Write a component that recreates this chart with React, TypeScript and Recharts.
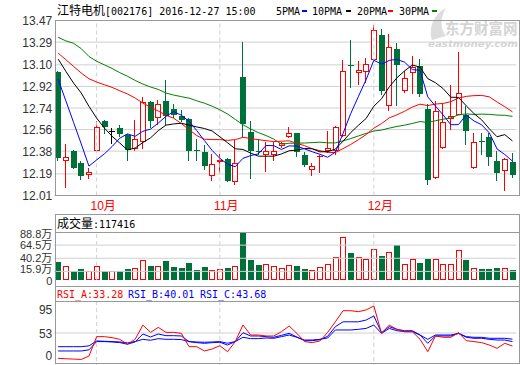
import React from 'react';
import { ComposedChart, Bar, Line, XAxis, YAxis, CartesianGrid, ReferenceLine } from 'recharts';

// ---- data ----
const opens = [13.04, 12.30, 12.38, 12.28, 12.185, 12.38, 12.63, 12.545, 12.57, 12.515,
  12.40, 12.455, 12.79, 12.66, 12.80, 12.735, 12.675, 12.65, 12.386, 12.37,
  12.17, 12.29, 12.315, 12.125, 13.00, 12.54, 12.383, 12.345, 12.345, 12.42,
  12.495, 12.53, 12.35, 12.22, 12.337, 12.385, 12.385, 12.505, 13.095, 13.035,
  13.04, 13.143, 13.345, 12.755, 13.235, 12.88, 13.03, 13.09, 12.735, 12.155,
  12.405, 12.645, 12.685, 12.68, 12.24, 12.462, 12.495, 12.295, 12.217, 12.29];
const highs = [13.045, 12.44, 12.39, 12.30, 12.24, 12.63, 12.64, 12.575, 12.60, 12.52,
  12.64, 12.83, 12.795, 12.81, 12.97, 12.77, 12.72, 12.66, 12.48, 12.43,
  12.36, 12.36, 12.32, 12.47, 13.29, 12.63, 12.48, 12.46, 12.46, 12.455,
  12.58, 12.535, 12.37, 12.28, 12.345, 12.545, 12.59, 13.14, 13.31, 13.13,
  13.16, 13.435, 13.40, 13.36, 13.28, 13.05, 13.17, 13.145, 12.77, 12.80,
  12.78, 12.935, 13.21, 12.755, 12.53, 12.53, 12.53, 12.38, 12.32, 12.365];
const lows = [12.30, 12.07, 12.23, 12.14, 12.15, 12.375, 12.52, 12.44, 12.50, 12.30,
  12.38, 12.40, 12.57, 12.595, 12.595, 12.655, 12.62, 12.30, 12.30, 12.225,
  12.13, 12.20, 12.12, 12.10, 12.50, 12.15, 12.345, 12.205, 12.30, 12.41,
  12.49, 12.335, 12.25, 12.17, 12.195, 12.365, 12.345, 12.50, 12.905, 12.935,
  12.95, 13.14, 12.845, 12.715, 12.76, 12.865, 12.855, 12.835, 12.10, 12.15,
  12.40, 12.56, 12.68, 12.43, 12.235, 12.345, 12.255, 12.13, 12.05, 12.16];
const closes = [12.32, 12.33, 12.24, 12.175, 12.21, 12.58, 12.58, 12.545, 12.525, 12.39,
  12.48, 12.79, 12.635, 12.775, 12.67, 12.68, 12.64, 12.38, 12.383, 12.255,
  12.27, 12.31, 12.135, 12.28, 12.605, 12.385, 12.38, 12.38, 12.378, 12.445,
  12.535, 12.37, 12.265, 12.26, 12.342, 12.41, 12.585, 13.045, 13.09, 13.055,
  13.11, 13.39, 12.885, 13.245, 13.10, 12.99, 13.08, 12.855, 12.14, 12.715,
  12.62, 12.67, 12.865, 12.545, 12.46, 12.46, 12.33, 12.195, 12.317, 12.185];

const ma5 = [12.98, 12.80, 12.62, 12.44, 12.255, 12.307, 12.357, 12.418, 12.488, 12.524,
  12.504, 12.546, 12.564, 12.614, 12.67, 12.71, 12.68, 12.629, 12.551, 12.468,
  12.386, 12.32, 12.271, 12.25, 12.32, 12.343, 12.357, 12.427, 12.426, 12.394,
  12.424, 12.422, 12.399, 12.375, 12.354, 12.329, 12.372, 12.528, 12.694, 12.837,
  12.977, 13.138, 13.106, 13.137, 13.146, 13.122, 13.06, 13.054, 12.833, 12.756,
  12.682, 12.60, 12.602, 12.683, 12.632, 12.60, 12.532, 12.398, 12.352, 12.297];
const ma10 = [13.148, 13.046, 12.948, 12.865, 12.754, 12.656, 12.573, 12.504, 12.448, 12.39,
  12.406, 12.452, 12.491, 12.551, 12.597, 12.607, 12.613, 12.597, 12.582, 12.569,
  12.548, 12.50, 12.45, 12.40, 12.394, 12.364, 12.338, 12.338, 12.338, 12.357,
  12.383, 12.389, 12.402, 12.40, 12.374, 12.376, 12.397, 12.463, 12.535, 12.596,
  12.653, 12.755, 12.817, 12.916, 12.992, 13.05, 13.099, 13.08, 12.985, 12.951,
  12.902, 12.83, 12.828, 12.758, 12.694, 12.641, 12.566, 12.50, 12.518, 12.465];
const ma20 = [13.198, 13.143, 13.087, 13.032, 12.984, 12.957, 12.934, 12.912, 12.884, 12.857,
  12.823, 12.781, 12.746, 12.715, 12.68, 12.655, 12.61, 12.56, 12.51, 12.479,
  12.477, 12.476, 12.47, 12.476, 12.495, 12.486, 12.476, 12.467, 12.46, 12.463,
  12.466, 12.445, 12.426, 12.40, 12.384, 12.37, 12.368, 12.401, 12.436, 12.476,
  12.518, 12.572, 12.61, 12.658, 12.683, 12.713, 12.748, 12.772, 12.76, 12.773,
  12.778, 12.793, 12.823, 12.837, 12.843, 12.845, 12.833, 12.79, 12.751, 12.708];
const ma30 = [13.33, 13.30, 13.28, 13.235, 13.17, 13.13, 13.10, 13.07, 13.035, 13.005,
  12.97, 12.94, 12.915, 12.895, 12.865, 12.848, 12.835, 12.822, 12.80, 12.78,
  12.755, 12.725, 12.69, 12.645, 12.60, 12.565, 12.535, 12.51, 12.48, 12.438,
  12.446, 12.447, 12.448, 12.451, 12.455, 12.449, 12.449, 12.466, 12.485, 12.507,
  12.528, 12.548, 12.556, 12.572, 12.586, 12.597, 12.611, 12.627, 12.619, 12.634,
  12.646, 12.658, 12.682, 12.691, 12.686, 12.689, 12.687, 12.681, 12.679, 12.67];

// volume in 万
const volumes = [34, 26, 17, 20, 17, 25, 17, 17, 17, 20,
  22, 37, 26, 26, 36, 24, 23, 32, 18.5, 24,
  18.5, 20, 23, 26, 88.3, 37, 28, 30, 26, 22,
  27, 26, 20, 18.5, 23.5, 30, 42, 79, 50.5, 42,
  38, 57, 44, 52, 65, 30, 38, 32, 39, 39,
  30, 30, 55.5, 37, 22, 20, 20, 22, 22, 18.5];

const rsiA = [14.7, 14, 13.5, 13, 18, 47.5, 47.5, 46, 43.4, 36,
  43.4, 65, 54, 61.6, 54, 54, 52.5, 32.3, 32.3, 25.8,
  28.8, 33.8, 24.7, 40, 65.2, 50, 50, 48.5, 48.5, 55,
  63.6, 52.5, 40, 38.4, 41, 54, 70, 86.8, 86.8, 85.3,
  88, 94, 52.5, 65, 58.6, 55, 55, 43.4, 24.7, 48.5,
  46.5, 46.5, 53.5, 41.4, 40, 38.4, 34.8, 29.8, 37.4, 33.28];
const rsiB = [25.8, 25.8, 25.8, 25.8, 27.5, 40, 40, 39.5, 38.5, 36,
  39.5, 51.5, 47, 51.5, 49, 49, 48.5, 40, 38.4, 37.4,
  38.4, 39, 34.8, 40, 53.5, 48.5, 48.5, 47.5, 46.5, 49.5,
  52.5, 47, 41.4, 41.4, 43, 48, 62.6, 70, 70, 70,
  72.7, 78.8, 53.5, 62.6, 58.6, 56.5, 56.5, 50, 37.4, 48.5,
  48.5, 48.5, 52.5, 46.5, 45, 45, 43.4, 42.4, 42.4, 40.01];
const rsiC = [32.3, 32.3, 32.3, 32.3, 33.5, 41, 40.5, 40, 39.5, 38,
  40, 43.4, 42, 44.5, 43.5, 43.5, 43, 40, 39.4, 39,
  39.4, 40, 37.5, 40, 46.5, 44.5, 44.5, 45.5, 45, 47.5,
  50, 46.5, 42.4, 42.4, 43.4, 45.5, 57.6, 57.6, 57.6, 58.6,
  60, 65, 52.5, 60, 56.5, 55, 55, 50, 43.4, 50,
  50, 50, 52.5, 47.5, 46.5, 46.5, 45, 45, 45, 43.68];

const monthIndex = [5, 21, 41];
const monthLabels = ['10月', '11月', '12月'];
const priceTicks = [12.01, 12.19, 12.38, 12.56, 12.74, 12.92, 13.10, 13.29, 13.47];
const volTicks = [0, 15.9, 40.2, 64.5, 88.8];
const rsiTicks = [0, 53, 95];

// ---- styles ----
const RED = '#ff0000';
const GREEN = '#00703a';
const BLUE = '#0000ff';
const GRID = '#d0d0d0';
const BORDER = '#999999';
const NUM_FONT = "'Liberation Sans', Arial, 'Noto Sans CJK SC', sans-serif";
const MONO = "'DejaVu Sans Mono', 'Liberation Mono', monospace";
const CJK = "'Noto Sans CJK SC', sans-serif";

const rows = closes.map((c, i) => ({
  i,
  open: opens[i], high: highs[i], low: lows[i], close: c,
  range: [lows[i], highs[i]],
  vol: volumes[i],
  ma5: ma5[i], ma10: ma10[i], ma20: ma20[i], ma30: ma30[i],
  rsiA: rsiA[i], rsiB: rsiB[i], rsiC: rsiC[i],
}));

function Candle(props: any) {
  const { x, y, width, height, payload } = props;
  if (x == null || y == null) return <g />;
  const { open, close, high, low } = payload;
  const top = Math.min(y, y + height);
  const bot = Math.max(y, y + height);
  const py = (v: number) => top + ((high - v) / (high - low)) * (bot - top);
  const cx = Math.round(x + width / 2);
  const up = close > open;
  const flat = close === open;
  const color = flat ? '#000' : up ? RED : GREEN;
  const yo = py(open), yc = py(close);
  const bt = Math.round(Math.min(yo, yc));
  const bb = Math.round(Math.max(yo, yc));
  const hy = Math.round(top), ly = Math.round(bot);
  const wx = cx - 0.5;
  if (bb - bt < 1) {
    return (
      <g>
        <line x1={wx} x2={wx} y1={hy} y2={ly} stroke={color} strokeWidth={1} />
        <line x1={cx - 3} x2={cx + 3} y1={bt + 0.5} y2={bt + 0.5} stroke={color} strokeWidth={1} />
      </g>
    );
  }
  if (up) {
    return (
      <g>
        {hy < bt && <line x1={wx} x2={wx} y1={hy} y2={bt} stroke={RED} strokeWidth={1} />}
        {ly > bb && <line x1={wx} x2={wx} y1={bb} y2={ly} stroke={RED} strokeWidth={1} />}
        <rect x={cx - 2.5} y={bt + 0.5} width={5} height={Math.max(1, bb - bt - 1)} fill="#fff" stroke={RED} strokeWidth={1} />
      </g>
    );
  }
  return (
    <g>
      <line x1={wx} x2={wx} y1={hy} y2={ly} stroke={color} strokeWidth={1} />
      <rect x={cx - 3} y={bt} width={6} height={bb - bt} fill={color} />
    </g>
  );
}

function VolBar(props: any) {
  const { x, y, width, height, payload } = props;
  if (x == null || y == null) return <g />;
  const cx = Math.round(x + width / 2);
  const top = Math.round(Math.min(y, y + height));
  const bot = Math.round(Math.max(y, y + height));
  const up = payload.close >= payload.open;
  if (up) {
    return <rect x={cx - 2.5} y={top + 0.5} width={5} height={Math.max(1, bot - top - 1)} fill="#fff" stroke={RED} strokeWidth={1} />;
  }
  return <rect x={cx - 3} y={top} width={6} height={bot - top} fill={GREEN} />;
}

const PriceTick = (p: any) => (
  <text x={p.x} y={p.y + 4.5} textAnchor="end" fontSize={12} fontFamily={NUM_FONT} fill="#333">
    {Number(p.payload.value).toFixed(2)}
  </text>
);

const VolTick = (p: any) => {
  const v = p.payload.value;
  const nudge = v === 0 ? 1 : v === volTicks[1] ? -2.5 : v === volTicks[4] ? 1.5 : 0;
  return (
    <text x={p.x} y={p.y + 4 + nudge} textAnchor="end" fontSize={11} fontFamily={NUM_FONT} fill="#333">
      {v === 0 ? '0' : `${v}万`}
    </text>
  );
};

const RsiTick = (p: any) => {
  const yy = Math.min(Math.max(p.y, 22.7), 68.5);
  return (
    <text x={p.x} y={yy + 4.5} textAnchor="end" fontSize={12} fontFamily={NUM_FONT} fill="#333">
      {p.payload.value}
    </text>
  );
};

const MonthTick = (p: any) => {
  const k = monthIndex.indexOf(p.payload.value);
  if (k < 0) return <g />;
  return (
    <text x={p.x + 6.5} y={p.y + 14.5} textAnchor="middle" fontSize={12} fontFamily={NUM_FONT} fill={RED}>
      {monthLabels[k]}
    </text>
  );
};

const LEFT_W = 54.3;
const RIGHT_M = 3.7;

export default function App() {
  const monthRefs = (keyp: string) =>
    monthIndex.map((m) => (
      <ReferenceLine key={keyp + m} x={m} stroke={GRID} strokeDasharray="4 3" ifOverflow="visible" />
    ));
  return (
    <div style={{ position: 'absolute', left: 0, top: 0, width: 520, height: 365, overflow: 'hidden', background: '#fff' }}>
      {/* watermark */}
      <svg width={520} height={60} style={{ position: 'absolute', left: 0, top: 0 }}>
        <path d="M432 40 C 428 28, 434 14, 446 8 C 440 18, 440 28, 446 36 Z" fill="#dddddd" />
        <text x={445} y={34} fontSize={14.5} fontWeight="bold" fontFamily={CJK} fill="#d4d4d4">东方财富网</text>
        <text x={428} y={46.5} fontSize={8.5} fontStyle="italic" fontWeight="bold" fontFamily="'DejaVu Sans', sans-serif" fill="#d4d4d4" textLength={90} lengthAdjust="spacingAndGlyphs">eastmoney.com</text>
      </svg>

      {/* price panel */}
      <div style={{ position: 'absolute', left: 0, top: 0 }}>
        <ComposedChart width={520} height={214} data={rows} margin={{ top: 20.5, right: RIGHT_M, bottom: 0, left: 0 }} barSize={6}>
          <CartesianGrid vertical={false} stroke={GRID} />
          <XAxis dataKey="i" type="category" scale="band" interval={0} tickLine={false} axisLine={false} tickSize={0} tickMargin={0} height={18.5} tick={<MonthTick />} />
          <YAxis type="number" domain={[12.01, 13.47]} ticks={priceTicks} interval={0} width={LEFT_W} tickLine={false} axisLine={false} tickSize={0} tickMargin={2} tick={<PriceTick />} />
          {monthRefs('p')}
          <Bar dataKey="range" shape={<Candle />} isAnimationActive={false} />
          <Line dataKey="ma30" stroke="#008000" strokeWidth={1} dot={false} isAnimationActive={false} />
          <Line dataKey="ma20" stroke={RED} strokeWidth={1} dot={false} isAnimationActive={false} />
          <Line dataKey="ma10" stroke="#000" strokeWidth={1} dot={false} isAnimationActive={false} />
          <Line dataKey="ma5" stroke={BLUE} strokeWidth={1} dot={false} isAnimationActive={false} />
        </ComposedChart>
      </div>

      {/* volume panel */}
      <div style={{ position: 'absolute', left: 0, top: 214 }}>
        <ComposedChart width={520} height={73} data={rows} margin={{ top: 18, right: RIGHT_M, bottom: 7, left: 0 }} barSize={6}>
          <XAxis dataKey="i" type="category" scale="band" hide />
          <YAxis type="number" domain={[0, 88.8]} ticks={volTicks} interval={0} width={LEFT_W} tickLine={false} axisLine={false} tickSize={0} tickMargin={2} tick={<VolTick />} />
          {volTicks.filter((v) => v > 0 && v < 88.8).map((v) => (
            <ReferenceLine key={'v' + v} y={v} stroke={GRID} />
          ))}
          {monthRefs('v')}
          <Bar dataKey="vol" shape={<VolBar />} isAnimationActive={false} />
        </ComposedChart>
      </div>

      {/* RSI panel */}
      <div style={{ position: 'absolute', left: 0, top: 287 }}>
        <ComposedChart width={520} height={81} data={rows} margin={{ top: 15, right: RIGHT_M, bottom: 0, left: 0 }}>
          <XAxis dataKey="i" type="category" scale="band" hide />
          <YAxis type="number" domain={[0, 100]} ticks={rsiTicks} interval={0} width={LEFT_W} tickLine={false} axisLine={false} tickSize={0} tickMargin={2} tick={<RsiTick />} />
          <ReferenceLine y={53} stroke={GRID} />
          {monthRefs('r')}
          <Line dataKey="rsiC" stroke={BLUE} strokeWidth={1} dot={false} isAnimationActive={false} />
          <Line dataKey="rsiB" stroke={BLUE} strokeWidth={1} dot={false} isAnimationActive={false} />
          <Line dataKey="rsiA" stroke={RED} strokeWidth={1} dot={false} isAnimationActive={false} />
        </ComposedChart>
      </div>

      {/* frames and header texts */}
      <svg width={520} height={365} style={{ position: 'absolute', left: 0, top: 0, pointerEvents: 'none' }}>
        <rect x={55.5} y={20.5} width={464} height={175} fill="none" stroke={BORDER} />
        <rect x={55.5} y={214.5} width={464} height={72} fill="none" stroke={BORDER} />
        <line x1={55.5} x2={519.5} y1={232.5} y2={232.5} stroke={BORDER} />
        <rect x={55.5} y={286.5} width={464} height={77} fill="none" stroke={BORDER} />
        <line x1={55.5} x2={519.5} y1={301.5} y2={301.5} stroke={BORDER} />

        <text x={57} y={15} fill="#000">
          <tspan fontFamily={CJK} fontSize={12}>江特电机</tspan>
          <tspan fontFamily={MONO} fontSize={10}>[002176] 2016-12-27 15:00</tspan>
        </text>

        <text x={276} y={15} fontFamily={MONO} fontSize={10} fill="#000">5PMA</text>
        <rect x={302} y={10} width={5} height={2} fill={BLUE} />
        <text x={312} y={15} fontFamily={MONO} fontSize={10} fill="#000">10PMA</text>
        <rect x={346} y={10} width={5} height={2} fill="#000" />
        <text x={357} y={15} fontFamily={MONO} fontSize={10} fill="#000">20PMA</text>
        <rect x={388} y={10} width={5} height={2} fill={RED} />
        <text x={399} y={15} fontFamily={MONO} fontSize={10} fill="#000">30PMA</text>
        <rect x={432} y={10} width={5} height={2} fill="#008000" />

        <text x={57} y={228} fill="#000">
          <tspan fontFamily={CJK} fontSize={12}>成交量</tspan>
          <tspan fontFamily={MONO} fontSize={10}>:117416</tspan>
        </text>

        <text x={57} y={298} fontFamily={MONO} fontSize={10} fill={RED}>RSI_A:33.28</text>
        <text x={128} y={298} fontFamily={MONO} fontSize={10} fill={BLUE}>RSI_B:40.01</text>
        <text x={200} y={298} fontFamily={MONO} fontSize={10} fill={BLUE}>RSI_C:43.68</text>
      </svg>
    </div>
  );
}
